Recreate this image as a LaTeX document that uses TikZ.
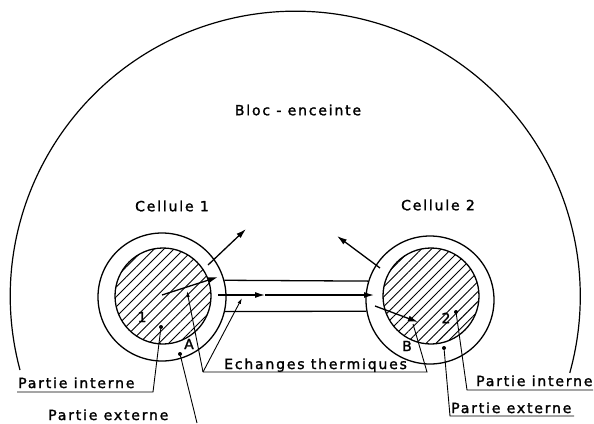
\documentclass[tikz,border=0pt]{standalone}
\usepackage{fontspec}
\setmainfont{DejaVu Sans}[LetterSpace=13,FakeBold=1.6]
\usetikzlibrary{arrows.meta,patterns.meta}
\tikzset{
  cellout/.style = {circle, draw, line width=1.3pt, minimum size=128pt, inner sep=0pt},
  cellin/.style  = {circle, draw, line width=1.3pt, minimum size=96pt, inner sep=0pt,
                    pattern={Lines[angle=45,distance=7pt,line width=0.9pt]}},
  flow/.style    = {-{Latex[length=10pt,width=6pt]}, line width=1.3pt},
  lead/.style    = {line width=0.9pt},
  leadtip/.style = {lead, -{Latex[length=6pt,width=3.5pt]}},
  lbl/.style     = {font=\fontsize{14}{16}\selectfont, inner sep=0pt},
  spot/.style    = {circle, fill, inner sep=0pt, minimum size=4pt},
}
\begin{document}
\begin{tikzpicture}[x=1pt, y=-1pt]
  \useasboundingbox (0,0) rectangle (594,423);
  % bloc-enceinte
  \draw[line width=1.2pt] (20,370) arc[start angle=195, end angle=-15.6, radius=285pt];
  \node[lbl] (bloc) at (298,110) {Bloc - enceinte};
  % cellules
  \node[cellin] (c1i) at (163,296) {};
  \node[cellout] (c1o) at (162,297) {};
  \node[cellin] (c2i) at (431,296) {};
  \node[cellout] (c2o) at (430,300) {};
  \node[lbl] (t1) at (172,206) {Cellule 1};
  \node[lbl] (t2) at (438,205) {Cellule 2};
  \node[lbl] (n1) at (142,317) {1};
  \node[lbl] (n2) at (446,318) {2};
  \node[lbl] (pA) at (189,344) {A};
  \node[lbl] (pB) at (407,346) {B};
  % liaison
  \draw[line width=1.3pt] (c1o.15) -- (c2o.163);
  \draw[line width=1.3pt] (c1o.-13) -- (c2o.190);
  % flux
  \coordinate (a1s) at (162,295); \coordinate (a1e) at (218,277);
  \coordinate (r1s) at (208,265); \coordinate (r1e) at (246,229);
  \coordinate (m1) at (218,295); \coordinate (mm) at (265,295); \coordinate (m2) at (374,295);
  \coordinate (r2s) at (380,268); \coordinate (r2e) at (337,236);
  \coordinate (b2s) at (375,306); \coordinate (b2e) at (418,322);
  \draw[flow] (a1s) -- (a1e);
  \draw[flow] (r1s) -- (r1e);
  \draw[flow] (m1) -- (mm);
  \draw[flow] (mm) -- (m2);
  \draw[flow] (r2s) -- (r2e);
  \draw[flow] (b2s) -- (b2e);
  % echanges thermiques
  \node[lbl, anchor=base west] (ech) at (224,369) {Echanges thermiques};
  \coordinate (ev) at (203,372); \coordinate (ee) at (427,372);
  \coordinate (e1) at (187,291); \coordinate (e2) at (242,298); \coordinate (e3) at (413,324);
  \draw[leadtip] (ev) -- (e1);
  \draw[leadtip] (ev) -- (e2);
  \draw[lead] (ev) -- (ee) -- (e3);
  % parties
  \node[spot] (d1i) at (161,327) {};
  \node[spot] (d1e) at (180,354) {};
  \node[spot] (d2i) at (456,312) {};
  \node[spot] (d2e) at (444,348) {};
  \node[lbl, anchor=base west] (pi1) at (18,388) {Partie interne};
  \node[lbl, anchor=base west] (pe1) at (48,420) {Partie externe};
  \node[lbl, anchor=base west] (pi2) at (476,386) {Partie interne};
  \node[lbl, anchor=base west] (pe2) at (451,413) {Partie externe};
  \coordinate (k1) at (153,392); \coordinate (u1) at (17,392);
  \coordinate (k2) at (197,423);
  \coordinate (k3) at (467,390); \coordinate (u3) at (593,390);
  \coordinate (k4) at (450,416); \coordinate (u4) at (574,416);
  \draw[lead] (d1i) -- (k1) -- (u1);
  \draw[lead] (d1e) -- (k2);
  \draw[lead] (d2i) -- (k3) -- (u3);
  \draw[lead] (d2e) -- (k4) -- (u4);
\end{tikzpicture}
\end{document}
